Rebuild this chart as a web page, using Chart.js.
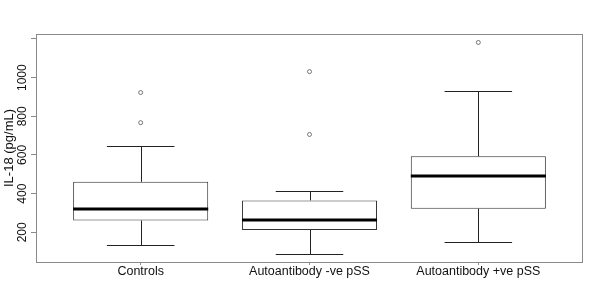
<!DOCTYPE html>
<html>
<head>
<meta charset="utf-8">
<script src="https://cdn.jsdelivr.net/npm/chart.js@4/dist/chart.umd.min.js"></script>
<style>
  html, body { margin: 0; padding: 0; background: #fff; }
  #wrap { width: 600px; height: 304px; }
</style>
</head>
<body>
<div id="wrap"><canvas id="c" width="600" height="304"></canvas></div>
<script>
// ---- data ----
const categories   = ['Controls', 'Autoantibody -ve pSS', 'Autoantibody +ve pSS'];
const lowerWhisker = [134, 90, 148];
const q1           = [261, 212, 322];
const median       = [320, 263, 491];
const q3           = [461, 365, 593];
const upperWhisker = [645, 412, 929];
const outliers     = [[767, 923], [706, 1031], [1182]];
const yTickValues  = [200, 400, 600, 800, 1000, 1200];
const yTickLabels  = ['200', '400', '600', '800', '1000', ''];
const yTitle       = 'IL-18 (pg/mL)';

// ---- derived ----
const positions = categories.map((_, i) => i + 1);
const allVals = lowerWhisker.concat(upperWhisker, outliers.flat());
const dMin = Math.min(...allVals), dMax = Math.max(...allVals);
const ext = (dMax - dMin) * 0.04;
const boxHalf = 0.4, capHalf = 0.2;

const boxData = positions.map((x, i) => ({ x: x, y: [q1[i], q3[i]] }));
const outlierData = [];
outliers.forEach((arr, i) => arr.forEach(v => outlierData.push({ x: positions[i], y: v })));

const FONT = '"Liberation Sans", Arial, sans-serif';

const boxPlugin = {
  id: 'boxExtras',
  beforeDraw(chart) {
    const ctx = chart.ctx;
    ctx.save();
    ctx.fillStyle = '#fff';
    ctx.fillRect(0, 0, chart.width, chart.height);
    ctx.restore();
  },
  afterDatasetsDraw(chart) {
    const ctx = chart.ctx, xs = chart.scales.x, ys = chart.scales.y, a = chart.chartArea;
    ctx.save();
    ctx.strokeStyle = '#222';
    ctx.lineWidth = 1;
    positions.forEach((p, i) => {
      const xc = Math.round(xs.getPixelForValue(p)) + 0.5;
      const xl = xs.getPixelForValue(p - capHalf), xr = xs.getPixelForValue(p + capHalf);
      const yUW = Math.round(ys.getPixelForValue(upperWhisker[i])) + 0.5;
      const yLW = Math.round(ys.getPixelForValue(lowerWhisker[i])) + 0.5;
      const yQ3 = ys.getPixelForValue(q3[i]), yQ1 = ys.getPixelForValue(q1[i]);
      ctx.beginPath();
      ctx.moveTo(xc, yQ3); ctx.lineTo(xc, yUW);
      ctx.moveTo(xc, yQ1); ctx.lineTo(xc, yLW);
      ctx.moveTo(xl, yUW); ctx.lineTo(xr, yUW);
      ctx.moveTo(xl, yLW); ctx.lineTo(xr, yLW);
      ctx.stroke();
      // median
      const ym = Math.round(ys.getPixelForValue(median[i]));
      ctx.beginPath();
      ctx.lineWidth = 3;
      ctx.strokeStyle = '#000';
      ctx.moveTo(xs.getPixelForValue(p - boxHalf), ym);
      ctx.lineTo(xs.getPixelForValue(p + boxHalf), ym);
      ctx.stroke();
      ctx.lineWidth = 1;
      ctx.strokeStyle = '#222';
    });
    // frame
    ctx.strokeStyle = '#8a8a8a';
    ctx.lineWidth = 1;
    ctx.strokeRect(a.left + 0.5, a.top + 0.5, a.right - a.left - 1, a.bottom - a.top);
    // y tick labels (rotated like R)
    ctx.fillStyle = '#111';
    ctx.font = '12px ' + FONT;
    ctx.textAlign = 'center';
    ctx.textBaseline = 'middle';
    yTickValues.forEach((v, i) => {
      if (!yTickLabels[i]) return;
      const y = ys.getPixelForValue(v);
      ctx.save();
      ctx.translate(a.left - 13, y);
      ctx.rotate(-Math.PI / 2);
      ctx.fillText(yTickLabels[i], 0, 0);
      ctx.restore();
    });
    ctx.restore();
  }
};

new Chart(document.getElementById('c'), {
  type: 'bar',
  data: {
    datasets: [
      {
        type: 'bar',
        data: boxData,
        backgroundColor: '#fff',
        borderColor: '#333',
        borderWidth: 1,
        borderSkipped: false,
        categoryPercentage: boxHalf * 2,
        barPercentage: 1.0,
        order: 2
      },
      {
        type: 'scatter',
        data: outlierData,
        pointRadius: 2,
        pointBorderWidth: 0.8,
        borderColor: '#555',
        backgroundColor: '#fff',
        order: 1
      }
    ]
  },
  options: {
    responsive: false,
    animation: false,
    events: [],
    layout: { padding: { top: 34, right: 17, left: 0, bottom: 0 } },
    plugins: { legend: { display: false }, tooltip: { enabled: false } },
    scales: {
      x: {
        type: 'linear',
        offset: false,
        min: 1 - 0.5 - 3 * 0.04,
        max: categories.length + 0.5 + 3 * 0.04,
        afterBuildTicks: s => { s.ticks = positions.map(v => ({ value: v })); },
        afterFit: s => { s.height = 42; },
        border: { display: false },
        grid: { offset: false, drawOnChartArea: false, drawTicks: true, tickLength: 3, color: '#8a8a8a' },
        ticks: {
          autoSkip: false,
          maxRotation: 0,
          padding: -1,
          color: '#111',
          font: { family: FONT, size: 12.5 },
          callback: v => categories[v - 1] || ''
        }
      },
      y: {
        type: 'linear',
        min: dMin - ext,
        max: dMax + ext,
        afterBuildTicks: s => { s.ticks = yTickValues.map(v => ({ value: v })); },
        afterFit: s => { s.width = 36; },
        border: { display: false },
        grid: { drawOnChartArea: false, drawTicks: true, tickLength: 5, color: '#8a8a8a' },
        ticks: { display: false },
        title: {
          display: true,
          text: yTitle,
          color: '#111',
          font: { family: FONT, size: 13 },
          padding: { top: 2, bottom: 0 }
        }
      }
    }
  },
  plugins: [boxPlugin]
});
</script>
</body>
</html>
